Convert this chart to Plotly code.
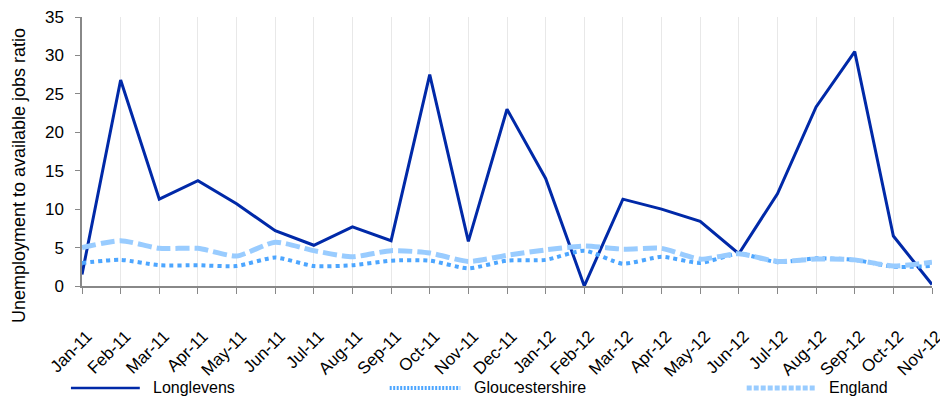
import plotly.graph_objects as go

months = ["Jan-11","Feb-11","Mar-11","Apr-11","May-11","Jun-11","Jul-11","Aug-11","Sep-11","Oct-11","Nov-11","Dec-11",
          "Jan-12","Feb-12","Mar-12","Apr-12","May-12","Jun-12","Jul-12","Aug-12","Sep-12","Oct-12","Nov-12"]
longlevens = [1.5, 26.8, 11.3, 13.7, 10.7, 7.2, 5.3, 7.7, 5.9, 27.5, 5.8, 23.0,
              14.0, 0.0, 11.3, 10.0, 8.4, 4.2, 12.0, 23.3, 30.5, 6.5, 0.2]
gloucestershire = [3.0, 3.4, 2.7, 2.7, 2.6, 3.7, 2.6, 2.7, 3.3, 3.3, 2.3, 3.3,
                   3.4, 4.6, 2.9, 3.8, 3.0, 4.2, 3.1, 3.6, 3.4, 2.5, 2.6]
england = [5.0, 5.9, 4.9, 4.9, 3.9, 5.7, 4.6, 3.8, 4.6, 4.3, 3.2, 4.0,
           4.7, 5.2, 4.8, 4.9, 3.5, 4.2, 3.2, 3.5, 3.4, 2.6, 3.1]
series_names = ["Longlevens", "Gloucestershire", "England"]
y_title = "Unemployment to available jobs ratio"

styles = [dict(color="#0029a8", width=3),
          dict(color="#4da6ff", width=4, dash="4px,4px", shape="spline", smoothing=0.6),
          dict(color="#99ccff", width=5, dash="14px,5px", shape="spline", smoothing=0.6)]
legend_styles = [dict(color="#0029a8", width=2.5),
                 dict(color="#4da6ff", width=4, dash="2px,1.5px"),
                 dict(color="#99ccff", width=5, dash="5px,2px")]

fig = go.Figure()
for name, vals, st in zip(series_names, [longlevens, gloucestershire, england], styles):
    fig.add_trace(go.Scatter(x=months, y=vals, name=name, mode="lines", line=st, showlegend=False))

# manual legend (paper coordinates) placed like the original single-row legend
leg_y = -0.379
leg_x = [(-0.013, 0.068, 0.081), (0.362, 0.445, 0.459), (0.782, 0.862, 0.876)]
shapes, annotations = [], []
for name, (x0, x1, xt), ls in zip(series_names, leg_x, legend_styles):
    shapes.append(dict(type="line", xref="paper", yref="paper", x0=x0, x1=x1, y0=leg_y, y1=leg_y, line=ls))
    annotations.append(dict(text=name, xref="paper", yref="paper", x=xt, y=leg_y, xanchor="left",
                            yanchor="middle", showarrow=False, font=dict(size=16)))
annotations.append(dict(text=y_title, xref="paper", yref="paper", x=-0.074, y=0.409,
                        xanchor="center", yanchor="middle", textangle=-90, showarrow=False,
                        font=dict(size=18)))

fig.update_layout(
    width=940, height=392,
    margin=dict(l=74, r=16, t=9, b=114),
    paper_bgcolor="white", plot_bgcolor="white",
    font=dict(family="Liberation Sans, Arial, sans-serif", size=16, color="#000000"),
    showlegend=False,
    shapes=shapes,
    annotations=annotations,
    xaxis=dict(type="category", range=[0, 22], showgrid=True, gridcolor="#e8e8e8", gridwidth=1,
               showline=True, linecolor="#888888", linewidth=1.5, automargin=False,
               ticks="outside", ticklen=6, tickcolor="#888888", tickangle=-45,
               ticklabelshift=5, ticklabelstandoff=26, ticklabeloverflow="allow",
               tickfont=dict(size=17)),
    yaxis=dict(range=[0, 35], dtick=5, showgrid=False, zeroline=False, automargin=False,
               showline=True, linecolor="#888888", linewidth=1.5,
               ticks="outside", ticklen=5, tickcolor="#888888",
               ticklabelstandoff=8, ticklabeloverflow="allow",
               tickfont=dict(size=17)),
)

fig.write_html("out.html")
